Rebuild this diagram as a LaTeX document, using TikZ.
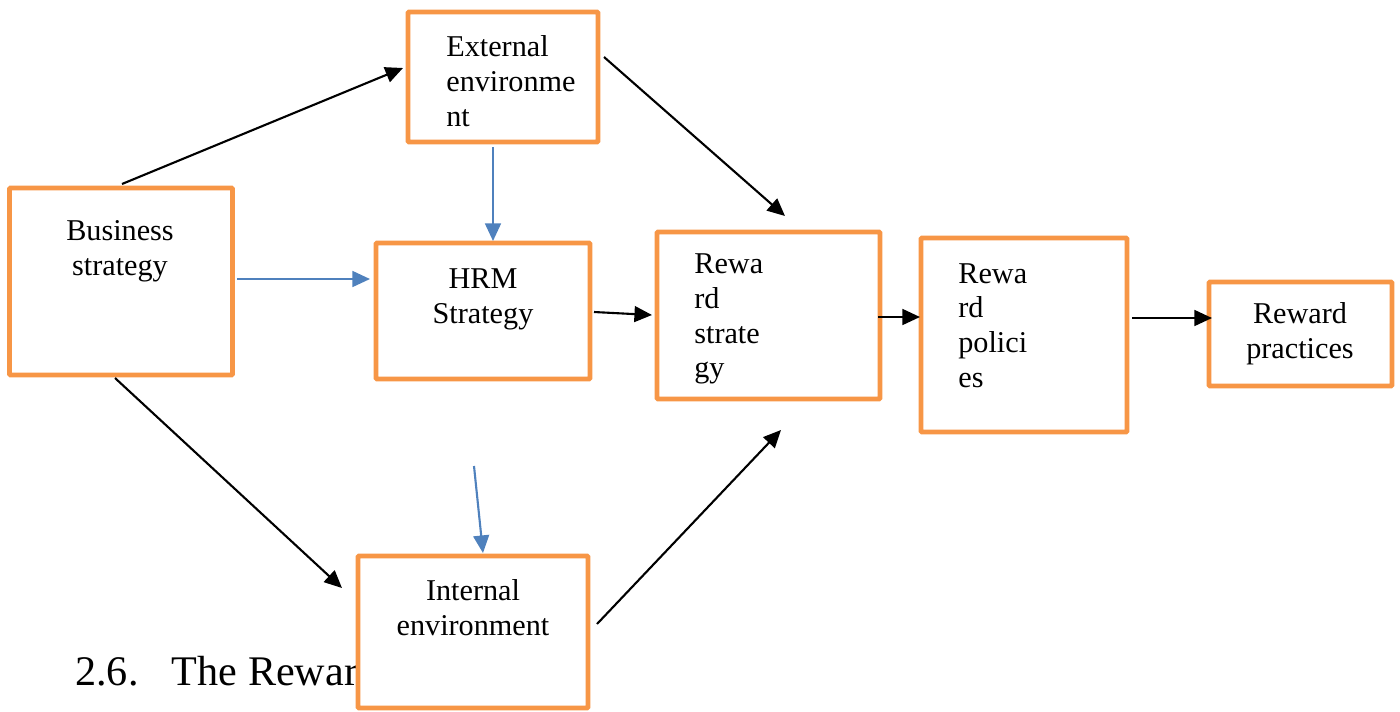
\documentclass[tikz,border=0pt]{standalone}
\usepackage{fontspec}
\setmainfont{Liberation Serif}
\usetikzlibrary{arrows.meta}
\definecolor{boxorange}{HTML}{F79646}
\definecolor{arrowblue}{HTML}{4F81BD}
\tikzset{
  box/.style={draw=boxorange, line width=2.8pt, fill=white, rounded corners=0.6pt, inner sep=0pt},
  lbl/.style={font=\fontsize{17.2}{19.8}\selectfont, inner sep=0pt},
  blk/.style={draw=black, line width=1.2pt, -{Triangle[length=10pt,width=9pt]}},
  blu/.style={draw=arrowblue, line width=1.2pt, -{Triangle[length=10pt,width=9pt]}},
}
\begin{document}
\begin{tikzpicture}[x=0.02cm,y=-0.02cm]
\useasboundingbox (0,0) rectangle (1400,711);
% heading text behind the internal environment box
\node[font=\fontsize{24}{28}\selectfont, anchor=west, inner sep=0pt] (head) at (75,671) {2.6.\hspace{19pt}The Rewar};
% boxes
\node[box, minimum width=223*0.02cm, minimum height=187*0.02cm] (bus) at (121,281.5) {};
\node[box, minimum width=190*0.02cm, minimum height=130*0.02cm] (ext) at (503,77) {};
\node[box, minimum width=214*0.02cm, minimum height=136*0.02cm] (hrm) at (483,311) {};
\node[box, minimum width=223*0.02cm, minimum height=167*0.02cm] (rs) at (768.5,315.5) {};
\node[box, minimum width=206*0.02cm, minimum height=194*0.02cm] (rp) at (1024,335) {};
\node[box, minimum width=183*0.02cm, minimum height=104*0.02cm] (rpr) at (1300.5,334) {};
\node[box, minimum width=230*0.02cm, minimum height=152*0.02cm] (int) at (473,632) {};
% texts
\node[lbl, align=center] (tbus) at (120,251) {Business\\strategy};
\node[lbl, align=left, anchor=west] (text) at (446,81) {External\\environme\\nt};
\node[lbl, align=center] (thrm) at (483,299) {HRM\\Strategy};
\node[lbl, align=left, anchor=west] (trs) at (694,319) {Rewa\\rd\\strate\\gy};
\node[lbl, align=left, anchor=west] (trp) at (958,325.5) {Rewa\\rd\\polici\\es};
\node[lbl, align=center] (trpr) at (1300,334) {Reward\\practices};
\node[lbl, align=center] (tint) at (473,608) {Internal\\environment};
% connector end points
\coordinate (a1s) at (122,184); \coordinate (a1e) at (403,68);
\coordinate (a2s) at (604,57);  \coordinate (a2e) at (785,216);
\coordinate (b1s) at (493,147); \coordinate (b1e) at (493,241);
\coordinate (b2s) at (237,279); \coordinate (b2e) at (370,279);
\coordinate (a3s) at (594,312); \coordinate (a3e) at (652,315);
\coordinate (a4s) at (878,317); \coordinate (a4e) at (920,317);
\coordinate (a5s) at (1132,318); \coordinate (a5e) at (1212,318);
\coordinate (a6s) at (115,378); \coordinate (a6e) at (342,588);
\coordinate (b3s) at (474,466); \coordinate (b3e) at (483,553);
\coordinate (a7s) at (597,624); \coordinate (a7e) at (781,430);
\draw[blk] (a1s) -- (a1e);
\draw[blk] (a2s) -- (a2e);
\draw[blu] (b1s) -- (b1e);
\draw[blu] (b2s) -- (b2e);
\draw[blk] (a3s) -- (a3e);
\draw[blk] (a4s) -- (a4e);
\draw[blk] (a5s) -- (a5e);
\draw[blk] (a6s) -- (a6e);
\draw[blu] (b3s) -- (b3e);
\draw[blk] (a7s) -- (a7e);
\end{tikzpicture}
\end{document}
